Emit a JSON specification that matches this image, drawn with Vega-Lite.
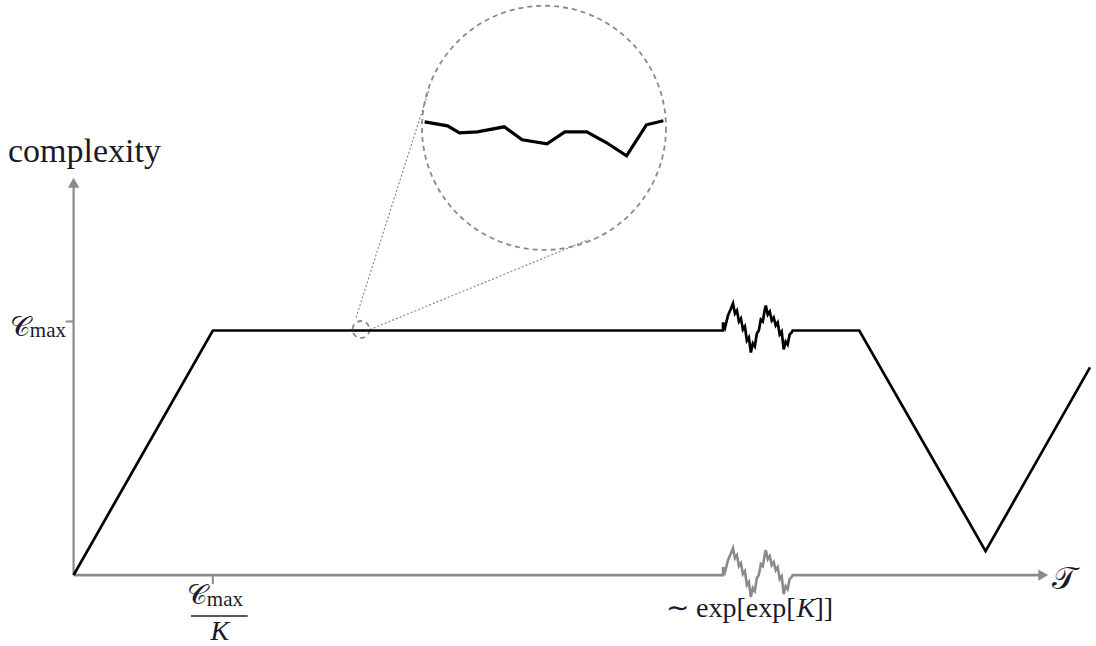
{
  "$schema": "https://vega.github.io/schema/vega-lite/v6.json",
  "width": 1096,
  "height": 646,
  "autosize": {"type": "fit", "contains": "padding"},
  "padding": 0,
  "background": "white",
  "config": {"view": {"stroke": null}},
  "encoding": {
    "x": {"field": "x", "type": "quantitative", "scale": {"domain": [-74, 1022], "nice": false, "zero": false}, "axis": null},
    "y": {"field": "y", "type": "quantitative", "scale": {"domain": [-70, 576], "nice": false, "zero": false}, "axis": null}
  },
  "layer": [
    {
      "data": {"values": [
        {"x": 0, "y": 0}, {"x": 653, "y": 0}, {"x": 653, "y": 8}, {"x": 655, "y": 3}, {"x": 658, "y": 15}, {"x": 661, "y": 22}, {"x": 663, "y": 27}, {"x": 665, "y": 17}, {"x": 667, "y": 20}, {"x": 669, "y": 9}, {"x": 671, "y": 12}, {"x": 673, "y": 1}, {"x": 675, "y": 4}, {"x": 677, "y": -10}, {"x": 679, "y": -7}, {"x": 681, "y": -22}, {"x": 683, "y": -13}, {"x": 685, "y": -16}, {"x": 687, "y": -3}, {"x": 689, "y": 0}, {"x": 691, "y": 11}, {"x": 693, "y": 9}, {"x": 695, "y": 21}, {"x": 696, "y": 25}, {"x": 698, "y": 16}, {"x": 700, "y": 19}, {"x": 702, "y": 10}, {"x": 704, "y": 13}, {"x": 706, "y": 5}, {"x": 708, "y": 8}, {"x": 710, "y": -4}, {"x": 712, "y": -1}, {"x": 714, "y": -19}, {"x": 716, "y": -11}, {"x": 718, "y": -14}, {"x": 720, "y": -4}, {"x": 722, "y": -2}, {"x": 723, "y": 0}, {"x": 972, "y": 0}
      ]},
      "mark": {"type": "line", "color": "#8a8a8a", "strokeWidth": 2.6, "strokeJoin": "miter"},
      "encoding": {"order": {"value": null}}
    },
    {
      "data": {"values": [{"x": 0, "y": 0}, {"x": 0, "y": 392}]},
      "mark": {"type": "line", "color": "#8a8a8a", "strokeWidth": 2.2},
      "encoding": {"order": {"value": null}}
    },
    {
      "data": {"values": [{"x": 0, "y": 393, "s": "triangle-up"}, {"x": 975, "y": 0, "s": "triangle-right"}]},
      "mark": {"type": "point", "filled": true, "color": "#8a8a8a", "opacity": 1, "size": 130},
      "encoding": {"shape": {"field": "s", "type": "nominal", "scale": null, "legend": null}}
    },
    {
      "data": {"values": [{"x": -8, "y": 254, "x2": 0, "y2": 254}, {"x": 140, "y": 0, "x2": 140, "y2": -9}]},
      "mark": {"type": "rule", "color": "#8a8a8a", "strokeWidth": 2},
      "encoding": {"x2": {"field": "x2"}, "y2": {"field": "y2"}}
    },
    {
      "data": {"values": [{"x": 118, "y": -41, "x2": 175, "y2": -41}]},
      "mark": {"type": "rule", "color": "#222222", "strokeWidth": 1.5},
      "encoding": {"x2": {"field": "x2"}, "y2": {"field": "y2"}}
    },
    {
      "data": {"values": [{"x": 284, "y": 258, "x2": 357, "y2": 485}, {"x": 298, "y": 246, "x2": 518, "y2": 336}]},
      "mark": {"type": "rule", "color": "#8a8a8a", "strokeWidth": 1.2, "strokeDash": [2, 2]},
      "encoding": {"x2": {"field": "x2"}, "y2": {"field": "y2"}}
    },
    {
      "data": {"values": [{"x": 473, "y": 448, "d": 59536}, {"x": 289, "y": 246, "d": 289}]},
      "mark": {"type": "point", "shape": "circle", "filled": false, "color": "#8a8a8a", "opacity": 1, "strokeWidth": 1.8, "strokeDash": [5, 4]},
      "encoding": {"size": {"field": "d", "type": "quantitative", "scale": null, "legend": null}}
    },
    {
      "data": {"values": [
        {"x": 0, "y": 0}, {"x": 140, "y": 245}, {"x": 653, "y": 245}, {"x": 653, "y": 253}, {"x": 655, "y": 248}, {"x": 658, "y": 260}, {"x": 661, "y": 267}, {"x": 663, "y": 272}, {"x": 665, "y": 262}, {"x": 667, "y": 265}, {"x": 669, "y": 254}, {"x": 671, "y": 257}, {"x": 673, "y": 246}, {"x": 675, "y": 249}, {"x": 677, "y": 235}, {"x": 679, "y": 238}, {"x": 681, "y": 223}, {"x": 683, "y": 232}, {"x": 685, "y": 229}, {"x": 687, "y": 242}, {"x": 689, "y": 245}, {"x": 691, "y": 256}, {"x": 693, "y": 254}, {"x": 695, "y": 266}, {"x": 696, "y": 270}, {"x": 698, "y": 261}, {"x": 700, "y": 264}, {"x": 702, "y": 255}, {"x": 704, "y": 258}, {"x": 706, "y": 250}, {"x": 708, "y": 253}, {"x": 710, "y": 241}, {"x": 712, "y": 244}, {"x": 714, "y": 226}, {"x": 716, "y": 234}, {"x": 718, "y": 231}, {"x": 720, "y": 241}, {"x": 722, "y": 243}, {"x": 723, "y": 245}, {"x": 790, "y": 245}, {"x": 917, "y": 24}, {"x": 1022, "y": 208}
      ]},
      "mark": {"type": "line", "color": "#000000", "strokeWidth": 2.7, "strokeJoin": "miter"},
      "encoding": {"order": {"value": null}}
    },
    {
      "data": {"values": [
        {"x": 353, "y": 454}, {"x": 376, "y": 450}, {"x": 388, "y": 443}, {"x": 406, "y": 444}, {"x": 433, "y": 449}, {"x": 451, "y": 436}, {"x": 476, "y": 432}, {"x": 494, "y": 444}, {"x": 516, "y": 444}, {"x": 536, "y": 433}, {"x": 556, "y": 420}, {"x": 576, "y": 451}, {"x": 593, "y": 455}
      ]},
      "mark": {"type": "line", "color": "#000000", "strokeWidth": 3.2},
      "encoding": {"order": {"value": null}}
    },
    {
      "data": {"values": [{"x": -66, "y": 414, "t": "complexity"}]},
      "mark": {"type": "text", "font": "Liberation Serif", "fontSize": 34, "align": "left", "baseline": "alphabetic", "color": "#1a1a2a"},
      "encoding": {"text": {"field": "t"}}
    },
    {
      "data": {"values": [{"x": -44, "y": 239, "t": "𝒞"}, {"x": 134, "y": -29, "t": "𝒞"}]},
      "mark": {"type": "text", "font": "DejaVu Serif", "fontSize": 28, "align": "right", "baseline": "alphabetic", "color": "#1a1a2a"},
      "encoding": {"text": {"field": "t"}}
    },
    {
      "data": {"values": [{"x": -44, "y": 238, "t": "max"}, {"x": 134, "y": -31, "t": "max"}]},
      "mark": {"type": "text", "font": "Liberation Serif", "fontSize": 21, "align": "left", "baseline": "alphabetic", "color": "#1a1a2a"},
      "encoding": {"text": {"field": "t"}}
    },
    {
      "data": {"values": [{"x": 147, "y": -65, "t": "K"}]},
      "mark": {"type": "text", "font": "Liberation Serif", "fontSize": 28, "fontStyle": "italic", "align": "center", "baseline": "alphabetic", "color": "#1a1a2a"},
      "encoding": {"text": {"field": "t"}}
    },
    {
      "data": {"values": [{"x": 984, "y": -14, "t": "𝒯"}]},
      "mark": {"type": "text", "font": "DejaVu Serif", "fontSize": 32, "align": "left", "baseline": "alphabetic", "color": "#1a1a2a"},
      "encoding": {"text": {"field": "t"}}
    },
    {
      "data": {"values": [{"x": 726, "y": -42, "t": "∼ exp[exp["}]},
      "mark": {"type": "text", "font": "Liberation Serif", "fontSize": 28, "align": "right", "baseline": "alphabetic", "color": "#1a1a2a"},
      "encoding": {"text": {"field": "t"}}
    },
    {
      "data": {"values": [{"x": 745, "y": -42, "t": "]]"}]},
      "mark": {"type": "text", "font": "Liberation Serif", "fontSize": 28, "align": "left", "baseline": "alphabetic", "color": "#1a1a2a"},
      "encoding": {"text": {"field": "t"}}
    },
    {
      "data": {"values": [{"x": 727, "y": -42, "t": "K"}]},
      "mark": {"type": "text", "font": "Liberation Serif", "fontSize": 28, "fontStyle": "italic", "align": "left", "baseline": "alphabetic", "color": "#1a1a2a"},
      "encoding": {"text": {"field": "t"}}
    }
  ]
}
